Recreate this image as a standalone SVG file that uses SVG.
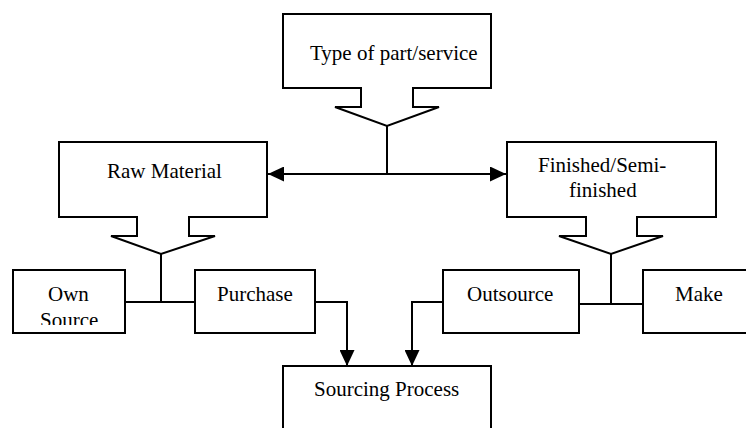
<svg xmlns="http://www.w3.org/2000/svg" width="746" height="428" viewBox="0 0 746 428">
  <style>
    .shape { fill: #ffffff; stroke: #000000; stroke-width: 2; }
    .wire { fill: none; stroke: #000000; stroke-width: 2; }
    .label { font-family: "Liberation Serif", "Times New Roman", serif; font-size: 21px; fill: #000000; }
  </style>
  <defs>
    <marker id="head" viewBox="0 0 16 15" refX="16" refY="7.5" markerWidth="16" markerHeight="15" markerUnits="userSpaceOnUse" orient="auto-start-reverse">
      <path d="M0,0 L16,7.5 L0,15 Z" fill="#000000"/>
    </marker>
    <clipPath id="ownClip">
      <rect x="13" y="270" width="112" height="55"/>
    </clipPath>
  </defs>
  <rect width="746" height="428" fill="#ffffff"/>

  <!-- connectors -->
  <g id="connectors">
    <path class="wire" d="M387,126 V174"/>
    <path class="wire" d="M268,174 H506" marker-start="url(#head)" marker-end="url(#head)"/>
    <path class="wire" d="M161,254 V302"/>
    <path class="wire" d="M123,302 H196"/>
    <path class="wire" d="M611,254 V304"/>
    <path class="wire" d="M575,304 H648"/>
    <path class="wire" d="M315,302 H347 V366" marker-end="url(#head)"/>
    <path class="wire" d="M443,302 H412 V366" marker-end="url(#head)"/>
  </g>

  <!-- callout nodes -->
  <g id="type-of-part">
    <path class="shape" d="M283,14 H491 V88 H413 V107 H439 L387,126 L335,107 H361 V88 H283 Z"/>
    <text class="label" x="310" y="60">Type of part/service</text>
  </g>
  <g id="raw-material">
    <path class="shape" d="M59,142 H267 V217 H189 V236 H215 L161,254 L111,236 H137 V217 H59 Z"/>
    <text class="label" x="107" y="178">Raw Material</text>
  </g>
  <g id="finished">
    <path class="shape" d="M507,142 H716 V217 H637 V236 H663 L611,254 L559,236 H586 V217 H507 Z"/>
    <text class="label" x="538" y="172">Finished/Semi-</text>
    <text class="label" x="569" y="197">finished</text>
  </g>

  <!-- option nodes -->
  <g id="own-source">
    <rect class="shape" x="13" y="270" width="112" height="63"/>
    <g clip-path="url(#ownClip)">
      <text class="label" x="48" y="301">Own</text>
      <text class="label" x="40" y="327">Source</text>
    </g>
  </g>
  <g id="purchase">
    <rect class="shape" x="195" y="270" width="120" height="63"/>
    <text class="label" x="217" y="301">Purchase</text>
  </g>
  <g id="outsource">
    <rect class="shape" x="443" y="270" width="136" height="63"/>
    <text class="label" x="467" y="301">Outsource</text>
  </g>
  <g id="make">
    <rect class="shape" x="643" y="270" width="120" height="63"/>
    <text class="label" x="675" y="301">Make</text>
  </g>

  <!-- result node -->
  <g id="sourcing-process">
    <rect class="shape" x="283" y="366" width="208" height="80"/>
    <text class="label" x="314" y="396">Sourcing Process</text>
  </g>
</svg>
